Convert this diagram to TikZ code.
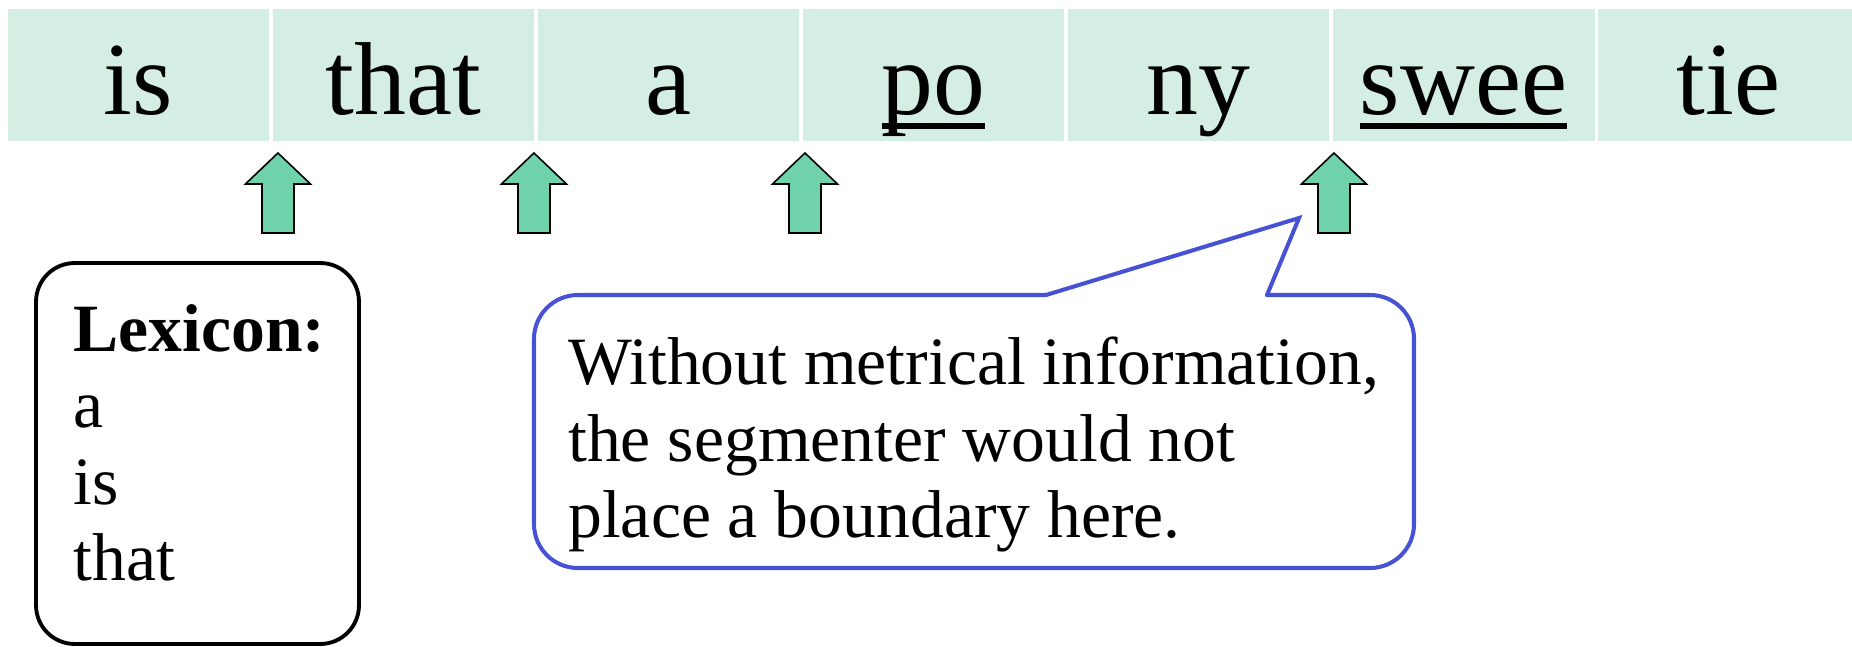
\documentclass[tikz,border=0pt]{standalone}
\usepackage{fontspec}
\setmainfont{Liberation Serif}
\usepackage{tikz}
\usetikzlibrary{calc,positioning}
\definecolor{mint}{RGB}{212,238,227}
\definecolor{mintdark}{RGB}{111,210,170}
\definecolor{bubbleblue}{RGB}{70,82,212}
\newsavebox\ulbox
\newcommand{\thickul}[1]{\sbox\ulbox{#1}\rlap{\rule[-8.5pt]{\wd\ulbox}{3.4pt}}\usebox\ulbox}
\tikzset{
  wordcell/.style={rectangle, fill=mint, draw=white, line width=1.7pt,
    minimum width=5.3cm, minimum height=2.7cm, inner sep=0pt,
    font=\fontsize{59}{70}\selectfont, text height=57pt, text depth=12pt},
  lexframe/.style={draw=black, line width=2.2pt, rounded corners=22pt,
    minimum width=6.46cm, minimum height=7.62cm},
  plaintext/.style={align=left, inner sep=0pt, anchor=north west,
    font=\fontsize{38.5}{43.5}\selectfont},
  bubble/.style={draw=bubbleblue, line width=2.3pt, line cap=round, line join=miter},
  boundary/.pic={\draw[fill=mintdark, line width=0.9pt, line join=miter]
    (0,0) -- (32.5,31) -- (16,31) -- (16,80) -- (-16,80) -- (-16,31) -- (-32.5,31) -- cycle;}
}

\begin{document}
\begin{tikzpicture}[x=0.02cm, y=-0.02cm]
\useasboundingbox (0,0) rectangle (1852,646);
\clip (0,0) rectangle (1852,646);

\foreach \w [count=\i] in {is,that,a,\thickul{po},ny,\thickul{swee},tie}
  \node[wordcell] (c\i) at ({138.5+265*(\i-1)},75) {\w};

\foreach \i/\dx in {1/5.5,2/-3.5,3/2.5,5/1.5}
  \pic at ($(c\i.south east)+(\dx,9)$) {boundary};

\node[lexframe] (lexbox) at (197.5,453.5) {};
\node[plaintext] (lexlist) at ($(lexbox.north west)+(39,43)$)
  {\textbf{Lexicon:}\\a\\is\\that};

\node[plaintext] (note) at (568,337)
  {Without metrical information,\\the segmenter would not\\place a boundary here.};
\coordinate (tip) at (1299,218);
\draw[bubble, rounded corners=25pt] (1267,295) -- (1414,295) -- (1414,568)
  -- (534,568) -- (534,295) -- (1046,295);
\draw[bubble] (1046,295) -- (tip) -- (1267,295);
\end{tikzpicture}
\end{document}
